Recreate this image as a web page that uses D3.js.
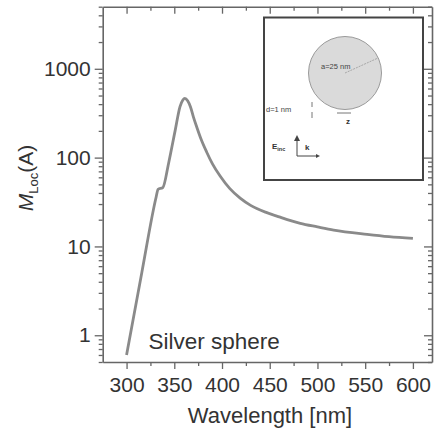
<!DOCTYPE html>
<html>
<head>
<meta charset="utf-8">
<script src="https://cdn.jsdelivr.net/npm/d3@7"></script>
<style>
  body { margin: 0; background: #fff; }
  svg { display: block; font-family: "Liberation Sans", Arial, sans-serif; }
  .axis path { stroke: #666; stroke-width: 1.6; }
  .axis line { stroke: #666; stroke-width: 1.3; }
  .axis text { fill: #333; font-size: 21px; }
</style>
</head>
<body>
<div id="chart"></div>
<script>
// wavelength [nm] and local field enhancement
var wavelength = [300, 316, 331, 333, 338, 344, 351, 356, 359, 361, 364, 367, 370, 374, 378, 384, 390, 398, 408, 419, 430, 447, 460, 482, 500, 517, 552, 575, 600];
var mLoc       = [0.6, 5.1, 36, 44, 46, 86, 204, 375, 445, 465, 437, 372, 288, 214, 162, 115, 85, 62, 45, 35, 29, 24, 21.5, 18.2, 16.6, 15.3, 13.7, 12.9, 12.3];

var xMajor = [300, 350, 400, 450, 500, 550, 600];
var xMinor = [325, 375, 425, 475, 525, 575];
var yMajor = [1, 10, 100, 1000];

var width = 435, height = 429;
var margin = {left: 102.7, top: 6.7, right: 3, bottom: 67};
var plotW = width - margin.left - margin.right,
    plotH = height - margin.top - margin.bottom;

var svg = d3.select('#chart')
    .append('svg')
    .attr('width', width)
    .attr('height', height);

var g = svg.append('g')
    .attr('transform', 'translate(' + margin.left + ',' + margin.top + ')');

var x = d3.scaleLinear().domain([275, 620]).range([0, plotW]);
var y = d3.scaleLog().domain([0.5, 5000]).range([plotH, 0]);

// minor log ticks 2..9 in each decade
var yMinor = [];
[0.1, 1, 10, 100, 1000].forEach(function (dec) {
    for (var k = 2; k <= 9; k++) {
        var v = dec * k;
        if (v >= 0.5 && v <= 5000) yMinor.push(v);
    }
});

var fmt = function (d) { return d; };

// bottom / top
g.append('g').attr('class', 'axis')
    .attr('transform', 'translate(0,' + plotH + ')')
    .call(d3.axisBottom(x).tickValues(xMinor).tickSize(4).tickFormat(''))
    .select('.domain').remove();
g.append('g').attr('class', 'axis')
    .attr('transform', 'translate(0,' + plotH + ')')
    .call(d3.axisBottom(x).tickValues(xMajor).tickSize(7).tickSizeOuter(0).tickPadding(8).tickFormat(fmt));
g.append('g').attr('class', 'axis')
    .call(d3.axisTop(x).tickValues(xMinor).tickSize(-4).tickFormat(''))
    .select('.domain').remove();
g.append('g').attr('class', 'axis')
    .call(d3.axisTop(x).tickValues(xMajor).tickSize(-7).tickSizeOuter(0).tickFormat(''));

// left / right
g.append('g').attr('class', 'axis')
    .call(d3.axisLeft(y).tickValues(yMinor).tickSize(4).tickFormat(''))
    .select('.domain').remove();
g.append('g').attr('class', 'axis')
    .call(d3.axisLeft(y).tickValues(yMajor).tickSize(8).tickSizeOuter(0).tickPadding(4).tickFormat(fmt));
g.append('g').attr('class', 'axis')
    .attr('transform', 'translate(' + plotW + ',0)')
    .call(d3.axisRight(y).tickValues(yMinor).tickSize(-4).tickFormat(''))
    .select('.domain').remove();
g.append('g').attr('class', 'axis')
    .attr('transform', 'translate(' + plotW + ',0)')
    .call(d3.axisRight(y).tickValues(yMajor).tickSize(-8).tickSizeOuter(0).tickFormat(''));

// curve
var line = d3.line()
    .x(function (d, i) { return x(wavelength[i]); })
    .y(function (d, i) { return y(mLoc[i]); })
    .curve(d3.curveMonotoneX);

g.append('path')
    .datum(mLoc)
    .attr('d', line)
    .attr('fill', 'none')
    .attr('stroke', '#8a8a8a')
    .attr('stroke-width', 2.8)
    .attr('stroke-linejoin', 'round');

g.append('text')
    .attr('x', x(323))
    .attr('y', y(0.99) + 13)
    .attr('fill', '#333')
    .attr('font-size', 22.5)
    .text('Silver sphere');

// axis titles
svg.append('text')
    .attr('x', 270)
    .attr('y', 423)
    .attr('text-anchor', 'middle')
    .attr('fill', '#333')
    .attr('font-size', 22)
    .text('Wavelength [nm]');

var yl = svg.append('text')
    .attr('transform', 'translate(33,178) rotate(-90)')
    .attr('text-anchor', 'middle')
    .attr('fill', '#333')
    .attr('font-size', 21);
yl.append('tspan').attr('font-style', 'italic').text('M');
yl.append('tspan').attr('font-size', 13).attr('dy', 5).text('Loc');
yl.append('tspan').attr('dy', -5).text('(A)');

// inset sketch
var inset = svg.append('g');
inset.append('rect')
    .attr('x', 264).attr('y', 17.5)
    .attr('width', 159).attr('height', 162.5)
    .attr('fill', '#fff')
    .attr('stroke', '#444')
    .attr('stroke-width', 2);
inset.append('circle')
    .attr('cx', 345).attr('cy', 73).attr('r', 36.5)
    .attr('fill', '#dadada')
    .attr('stroke', '#9a9a9a')
    .attr('stroke-width', 1);
inset.append('line')
    .attr('x1', 345).attr('y1', 73).attr('x2', 378).attr('y2', 58)
    .attr('stroke', '#999').attr('stroke-width', 0.8).attr('stroke-dasharray', '2,1');
inset.append('text')
    .attr('x', 321).attr('y', 69)
    .attr('font-size', 7.5).attr('fill', '#444')
    .text('a=25 nm');
inset.append('text')
    .attr('x', 266).attr('y', 112)
    .attr('font-size', 7.5).attr('fill', '#444')
    .text('d=1 nm');
// gap marks
inset.append('line').attr('x1', 312).attr('y1', 102).attr('x2', 312).attr('y2', 107)
    .attr('stroke', '#666').attr('stroke-width', 0.9);
inset.append('line').attr('x1', 312).attr('y1', 112).attr('x2', 312).attr('y2', 118)
    .attr('stroke', '#666').attr('stroke-width', 0.9);
// z arrow below sphere
inset.append('line').attr('x1', 337).attr('y1', 113).attr('x2', 351).attr('y2', 113)
    .attr('stroke', '#666').attr('stroke-width', 0.9);
inset.append('text')
    .attr('x', 346).attr('y', 124)
    .attr('font-size', 8).attr('font-weight', 'bold').attr('fill', '#333')
    .text('z');
// field / wavevector arrows
inset.append('line').attr('x1', 297).attr('y1', 156).attr('x2', 297).attr('y2', 139)
    .attr('stroke', '#444').attr('stroke-width', 1);
inset.append('path').attr('d', 'M294,141 L297,135 L300,141 Z').attr('fill', '#444');
inset.append('line').attr('x1', 297).attr('y1', 156).attr('x2', 318).attr('y2', 156)
    .attr('stroke', '#444').attr('stroke-width', 1);
inset.append('path').attr('d', 'M316,154 L320,156 L316,158 Z').attr('fill', '#444');
var et = inset.append('text')
    .attr('x', 272).attr('y', 149)
    .attr('font-size', 8).attr('font-weight', 'bold').attr('fill', '#333');
et.append('tspan').text('E');
et.append('tspan').attr('font-size', 5.5).attr('dy', 2).text('inc');
inset.append('text')
    .attr('x', 305).attr('y', 150)
    .attr('font-size', 8).attr('font-weight', 'bold').attr('fill', '#333')
    .text('k');
</script>
</body>
</html>
